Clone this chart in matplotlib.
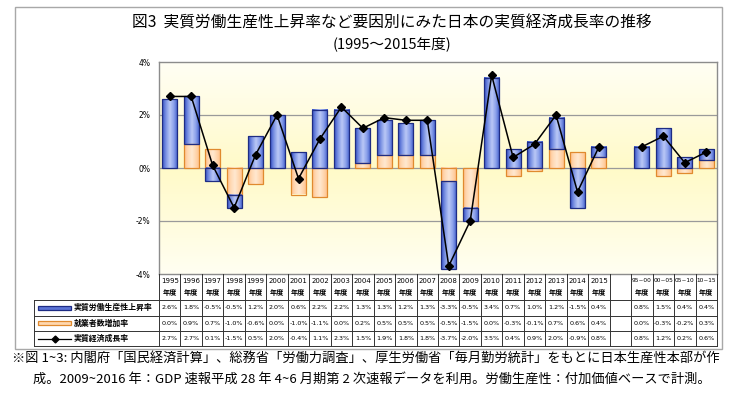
import numpy as np
import matplotlib
matplotlib.use("Agg")
import matplotlib.pyplot as plt
from matplotlib.colors import LinearSegmentedColormap
from matplotlib.patches import Rectangle
from matplotlib.lines import Line2D
import matplotlib.transforms as mtrans

plt.rcParams['font.family'] = ['Noto Sans CJK JP', 'DejaVu Sans']

# ---------------- data ----------------
categories = ['1995', '1996', '1997', '1998', '1999', '2000', '2001', '2002', '2003',
              '2004', '2005', '2006', '2007', '2008', '2009', '2010', '2011', '2012',
              '2013', '2014', '2015', '', "95~00", "00~05", "05~10", "10~15"]
productivity = [2.6, 1.8, -0.5, -0.5, 1.2, 2.0, 0.6, 2.2, 2.2, 1.3, 1.3, 1.2, 1.3,
                -3.3, -0.5, 3.4, 0.7, 1.0, 1.2, -1.5, 0.4, None, 0.8, 1.5, 0.4, 0.4]
employment = [0.0, 0.9, 0.7, -1.0, -0.6, 0.0, -1.0, -1.1, 0.0, 0.2, 0.5, 0.5, 0.5,
              -0.5, -1.5, 0.0, -0.3, -0.1, 0.7, 0.6, 0.4, None, 0.0, -0.3, -0.2, 0.3]
gdp_growth = [2.7, 2.7, 0.1, -1.5, 0.5, 2.0, -0.4, 1.1, 2.3, 1.5, 1.9, 1.8, 1.8,
              -3.7, -2.0, 3.5, 0.4, 0.9, 2.0, -0.9, 0.8, None, 0.8, 1.2, 0.2, 0.6]
series_labels = ['実質労働生産性上昇率', '就業者数増加率', '実質経済成長率']
yticks = [-4, -2, 0, 2, 4]

title = '図3  実質労働生産性上昇率など要因別にみた日本の実質経済成長率の推移'
subtitle = '(1995〜2015年度)'
note1 = '※図 1~3: 内閣府「国民経済計算」、総務省「労働力調査」、厚生労働省「毎月勤労統計」をもとに日本生産性本部が作'
note2 = '成。2009~2016 年：GDP 速報平成 28 年 4~6 月期第 2 次速報データを利用。労働生産性：付加価値ベースで計測。'

# ---------------- figure ----------------
W, H = 736, 399
fig = plt.figure(figsize=(W / 100, H / 100), dpi=100)
fig.patch.set_facecolor('white')


def fx(px):
    return px / W


def fy(py):
    return 1 - py / H


ax_l, ax_r, ax_t, ax_b = 159, 717, 62, 274
ax = fig.add_axes([fx(ax_l), fy(ax_b), fx(ax_r - ax_l), (ax_b - ax_t) / H])

n = len(categories)
x = np.arange(n)
prod = np.array([np.nan if v is None else v for v in productivity])
emp = np.array([np.nan if v is None else v for v in employment])
gdp = np.array([np.nan if v is None else v for v in gdp_growth])

# background gradient
bg_cmap = LinearSegmentedColormap.from_list('bg', ['#FFFFF2', '#FFFCDC', '#FFFAC8', '#FFFCDF', '#FFFFF4'])
grad = np.linspace(0, 1, 256).reshape(-1, 1)
ax.imshow(grad, extent=[-0.5, n - 0.5, 4, -4], aspect='auto', cmap=bg_cmap,
          zorder=0, origin='upper')

for g in [-2, 0, 2]:
    ax.axhline(g, color='#9A9A9A', lw=0.9, zorder=1)

# stacking: employment next to zero, productivity stacked on top if same sign
valid = ~np.isnan(prod)
same_sign = np.sign(prod) == np.sign(emp)
blue_bottom = np.where(same_sign, emp, 0.0)

width = 0.7
b_orange = ax.bar(x[valid], emp[valid], width=width, bottom=0, zorder=3)
b_blue = ax.bar(x[valid], prod[valid], width=width, bottom=blue_bottom[valid], zorder=3)

blue_cmap = LinearSegmentedColormap.from_list('bl', ['#3550C4', '#7D94E4', '#BAC8F6', '#8AA0EA', '#3F5BCB'])
orange_cmap = LinearSegmentedColormap.from_list('or', ['#FFC08A', '#FFDAB6', '#FFE8D0', '#FFD6AE', '#FFBE86'])
hgrad = np.linspace(0, 1, 64).reshape(1, -1)


def grad_fill(bars, cmap, edge):
    for p in bars:
        x0, y0, w, h = p.get_x(), p.get_y(), p.get_width(), p.get_height()
        if abs(h) < 1e-9:
            p.set_visible(False)
            continue
        ax.imshow(hgrad, extent=[x0, x0 + w, min(y0, y0 + h), max(y0, y0 + h)],
                  aspect='auto', cmap=cmap, zorder=2.5)
        p.set_facecolor('none')
        p.set_edgecolor(edge)
        p.set_linewidth(0.9)


grad_fill(b_orange, orange_cmap, '#E08A2E')
grad_fill(b_blue, blue_cmap, '#1E2C84')
ax.set_xlim(-0.5, n - 0.5)
ax.set_ylim(-4, 4)

ax.plot(x, gdp, color='black', lw=1.1, marker='D', ms=4.3, zorder=5)

ax.set_xticks([])
ax.set_yticks(yticks)
ax.set_yticklabels([f'{v}%' for v in yticks], fontsize=5.5, family='DejaVu Sans')
ax.tick_params(axis='y', length=0, pad=6)
for s in ax.spines.values():
    s.set_color('#8C8C8C')
    s.set_linewidth(1.0)

# ---------------- data table ----------------
bt = mtrans.blended_transform_factory(ax.transData, fig.transFigure)
tab_top = 274
row_bounds = [300, 315.5, 331, 346]
lc = '#333333'

for i in range(n + 1):
    xv = i - 0.5
    fig.add_artist(Line2D([xv, xv], [fy(tab_top), fy(row_bounds[-1])], transform=bt,
                          color=lc, lw=0.7))
for yb in row_bounds:
    fig.add_artist(Line2D([fx(34), fx(ax_r)], [fy(yb), fy(yb)], transform=fig.transFigure,
                          color=lc, lw=0.7))
fig.add_artist(Line2D([fx(34), fx(34)], [fy(row_bounds[0]), fy(row_bounds[-1])],
                      transform=fig.transFigure, color=lc, lw=0.7))

for i, c in enumerate(categories):
    if c:
        fs = 5 if len(c) == 4 and c.isdigit() else 4.2
        fig.text(i, fy(281), c, transform=bt, ha='center', va='center', fontsize=fs,
                 family='DejaVu Sans')
        fig.text(i, fy(293), '年度', transform=bt, ha='center', va='center', fontsize=5.2,
                 fontweight='bold')

rows = [prod, emp, gdp]
for r, vals in enumerate(rows):
    yc = (row_bounds[r] + row_bounds[r + 1]) / 2
    for i, v in enumerate(vals):
        if not np.isnan(v):
            fig.text(i, fy(yc), f'{v:.1f}%', transform=bt, ha='center', va='center',
                     fontsize=4.6, family='DejaVu Sans')
    fig.text(fx(74), fy(yc), series_labels[r], ha='left', va='center', fontsize=5.7,
             fontweight='bold')

# legend keys
y1 = (row_bounds[0] + row_bounds[1]) / 2
y2 = (row_bounds[1] + row_bounds[2]) / 2
y3 = (row_bounds[2] + row_bounds[3]) / 2
fig.add_artist(Rectangle((fx(38), fy(y1 + 2.2)), fx(33), 4.4 / H, transform=fig.transFigure,
                         facecolor='#5C74D6', edgecolor='#1E2C84', lw=0.9))
fig.add_artist(Rectangle((fx(38), fy(y2 + 2.2)), fx(33), 4.4 / H, transform=fig.transFigure,
                         facecolor='#FFD8B0', edgecolor='#E08A2E', lw=0.9))
fig.add_artist(Line2D([fx(38), fx(71)], [fy(y3), fy(y3)], transform=fig.transFigure,
                      color='black', lw=0.9))
fig.add_artist(Line2D([fx(54.5)], [fy(y3)], transform=fig.transFigure,
                      color='black', marker='D', ms=3.5, lw=0))

# outer chart border
fig.add_artist(Rectangle((fx(15), fy(349)), fx(707), 342 / H, transform=fig.transFigure,
                         facecolor='none', edgecolor='#A8A8A8', lw=1.0))

# titles
fig.text(fx(392), fy(23), title, ha='center', va='center', fontsize=11.3)
fig.text(fx(392), fy(44), subtitle, ha='center', va='center', fontsize=10.5)

# footnote
fig.text(fx(12), fy(358), note1, ha='left', va='center', fontsize=9.5)
fig.text(fx(33), fy(379), note2, ha='left', va='center', fontsize=9.5)

fig.savefig('out.png', dpi=100)
